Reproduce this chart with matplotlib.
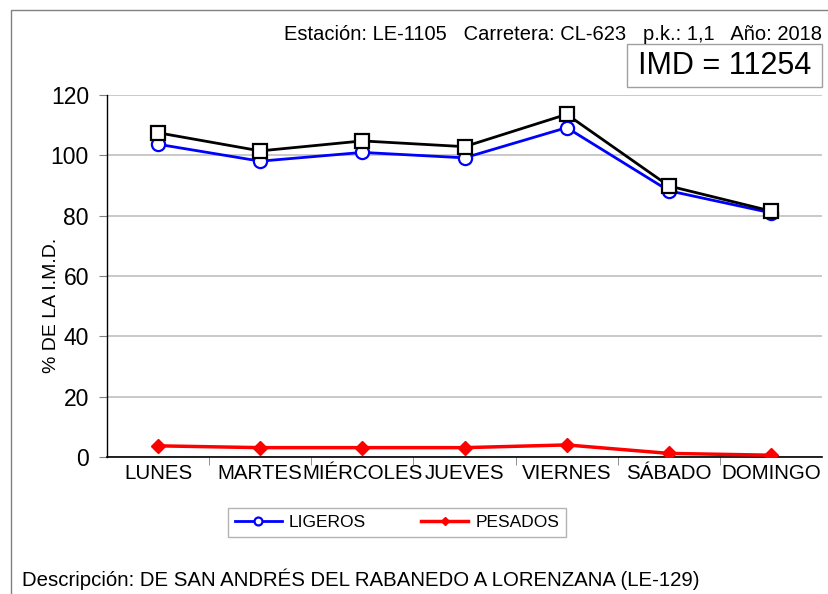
import matplotlib.pyplot as plt
from matplotlib.patches import Rectangle

plt.rcParams['font.family'] = ['Liberation Sans', 'DejaVu Sans']

# Weekly traffic profile (% of the annual daily mean)
dias = ['LUNES', 'MARTES', 'MIÉRCOLES', 'JUEVES', 'VIERNES', 'SÁBADO', 'DOMINGO']
ligeros = [103.6, 98.0, 100.9, 99.1, 109.1, 88.2, 80.9]
pesados = [3.8, 3.2, 3.2, 3.2, 4.1, 1.3, 0.7]
total = [107.4, 101.4, 104.7, 102.8, 113.5, 89.8, 81.5]
yticks = [0, 20, 40, 60, 80, 100, 120]

cabecera = 'Estación: LE-1105   Carretera: CL-623   p.k.: 1,1   Año: 2018'
imd = 'IMD = 11254'
descripcion = 'Descripción: DE SAN ANDRÉS DEL RABANEDO A LORENZANA (LE-129)'

W, H = 829, 594
fig = plt.figure(figsize=(W / 100, H / 100), dpi=100)
ax = fig.add_axes([0.129, 0.2301, 0.8627, 0.6105])

x = range(len(dias))
l1, = ax.plot(x, ligeros, color='#0000ff', lw=2, marker='o', ms=9.5,
              mfc='white', mec='#0000ff', mew=1.6, zorder=3, label='LIGEROS')
l2, = ax.plot(x, pesados, color='#ff0000', lw=2.5, marker='D', ms=7.5,
              mfc='#ff0000', mec='#ff0000', zorder=3, label='PESADOS')
ax.plot(x, total, color='black', lw=2, marker='s', ms=10,
        mfc='white', mec='black', mew=1.6, zorder=4)

ax.set_xlim(-0.5, len(dias) - 0.5)
ax.set_ylim(0, 120)
ax.set_yticks(yticks)
ax.set_xticks(x)
ax.set_xticklabels(dias, fontsize=14.8)
ax.set_xticks([i + 0.5 for i in range(len(dias) - 1)], minor=True)
ax.tick_params(axis='x', which='major', length=0, pad=5)
ax.tick_params(axis='x', which='minor', length=6, color='#808080')
ax.tick_params(axis='y', length=6, color='#808080', labelsize=16.5, pad=7)
ax.yaxis.grid(True, color='#c0c0c0', lw=1.2)
ax.set_axisbelow(True)
for s in ['top', 'right']:
    ax.spines[s].set_visible(False)
ax.spines['left'].set_linewidth(1)
ax.spines['bottom'].set_linewidth(1.2)

# y-axis title sits over the tick labels, as in the original sheet
fig.text(52 / W, 1 - 305 / H, '% DE LA I.M.D.', rotation=90,
         ha='center', va='center', fontsize=14)

leg = fig.legend(handles=[l1, l2], loc='center', bbox_to_anchor=(0.479, 0.12),
                 ncol=2, fontsize=12.5, frameon=True, fancybox=False,
                 edgecolor='#a0a0a0', markerscale=0.6, handlelength=2.7,
                 handletextpad=0.4, columnspacing=3.2, borderpad=0.4)
leg.get_frame().set_linewidth(1)

# outer frame and header texts
fig.patches.append(Rectangle((11 / W, -0.1), 1.2, 1 - 10 / H + 0.1,
                             transform=fig.transFigure, fill=False,
                             edgecolor='#808080', lw=1))
fig.text(0.992, 0.942, cabecera, ha='right', va='center', fontsize=14.5)
fig.patches.append(Rectangle((627 / W, 1 - 87 / H), 195 / W, 43 / H,
                             transform=fig.transFigure, fc='white',
                             edgecolor='#a0a0a0', lw=1))
fig.text(724.5 / W, 1 - 66 / H, imd, ha='center', va='center', fontsize=22)
fig.text(0.027, 0.024, descripcion, ha='left', va='center', fontsize=14.7)

fig.savefig('out.png', dpi=100)
